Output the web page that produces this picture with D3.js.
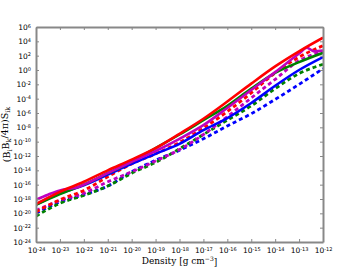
<!DOCTYPE html>
<html>
<head>
<meta charset="utf-8">
<script src="https://cdn.jsdelivr.net/npm/d3@7"></script>
<style>
  body { margin: 0; background: #fff; }
  svg { display: block; }
</style>
</head>
<body>
<script>
// decades of density on the x axis (log10 g cm^-3)
const densityExp = [-24, -23, -22, -21, -20, -19, -18, -17, -16, -15, -14, -13, -12];
// magenta solid line has a few extra points for its bumps
const magentaExp = [-24, -23.5, -23, -22.7, -22.3, -22, -21, -20, -19, -18, -17, -16, -15, -14, -13, -12.67, -12.38, -12];
const xTickExp = [-24, -23, -22, -21, -20, -19, -18, -17, -16, -15, -14, -13, -12];
const yTickExp = [6, 4, 2, 0, -2, -4, -6, -8, -10, -12, -14, -16, -18, -20, -22, -24];

// log10 of (BiBk/4pi)Sik
const redSolid     = [-18.7, -17.0, -15.6, -14.0, -12.5, -10.9, -8.9, -6.8, -4.4, -1.9, 0.5, 2.6, 4.5];
const magentaSolid = [-18.1, -17.4, -16.8, -16.6, -16.4, -16.0, -14.4, -12.8, -11.3, -9.6, -7.7, -5.3, -2.8, -0.3, 2.3, 3.1, 2.6, 2.7];
const greenSolid   = [-18.8, -17.3, -16.0, -14.4, -12.8, -10.9, -9.0, -7.0, -5.0, -2.6, -0.4, 1.1, 2.4];
const blueSolid    = [-18.8, -17.2, -16.1, -14.6, -13.1, -11.7, -10.3, -8.4, -6.7, -4.6, -2.2, 0.0, 1.8];
const redDashed    = [-19.8, -18.1, -16.8, -14.9, -13.1, -11.7, -10.1, -8.1, -5.8, -3.2, -0.4, 1.8, 3.4];
const magentaDashed= [-19.6, -18.2, -17.2, -15.6, -14.2, -12.7, -11.1, -9.0, -6.5, -3.9, -1.3, 1.3, 2.6];
const greenDashed  = [-20.4, -18.6, -17.5, -16.2, -14.4, -12.9, -11.0, -9.0, -7.0, -5.0, -2.6, -0.5, 0.8];
const blueDashed   = [-20.0, -18.4, -17.4, -16.2, -14.2, -12.6, -11.2, -9.6, -7.8, -6.1, -4.1, -2.0, 0.2];

const series = [
  {xs: densityExp, vals: blueDashed, color: "#0000ff", dash: true},
  {xs: densityExp, vals: greenDashed, color: "#008000", dash: true},
  {xs: densityExp, vals: magentaDashed, color: "#bf00bf", dash: true},
  {xs: densityExp, vals: redDashed, color: "#ff0000", dash: true},
  {xs: densityExp, vals: blueSolid, color: "#0000ff", dash: false},
  {xs: densityExp, vals: greenSolid, color: "#008000", dash: false},
  {xs: magentaExp, vals: magentaSolid, color: "#bf00bf", dash: false},
  {xs: densityExp, vals: redSolid, color: "#ff0000", dash: false}
];

const margin = {top: 27, right: 37, bottom: 28, left: 36};
const width = 360 - margin.left - margin.right;
const height = 270 - margin.top - margin.bottom;

const svg = d3.select("body").append("svg")
    .attr("width", 360)
    .attr("height", 270);

const g = svg.append("g")
    .attr("transform", "translate(" + margin.left + "," + margin.top + ")");

const x = d3.scaleLog().domain([1e-24, 1e-12]).range([0, width]);
const y = d3.scaleLog().domain([1e-24, 1e6]).range([height, 0]);

// clip to plot area
svg.append("defs").append("clipPath").attr("id", "clip")
  .append("rect").attr("width", width).attr("height", height);

const plot = g.append("g").attr("clip-path", "url(#clip)");
series.forEach(s => {
  const line = d3.line()
      .x((d, i) => x(Math.pow(10, s.xs[i])))
      .y(d => y(Math.pow(10, d)))
      .curve(d3.curveMonotoneX);
  plot.append("path")
      .datum(s.vals)
      .attr("d", line)
      .attr("fill", "none")
      .attr("stroke", s.color)
      .attr("stroke-width", s.dash ? 2.8 : 2.6)
      .attr("stroke-dasharray", s.dash ? "4,3" : null);
});

// superscript tick labels
function powLabel(sel, exps) {
  sel.selectAll(".tick text").each(function(d, i) {
    const t = d3.select(this);
    t.text(null);
    t.append("tspan").text("10");
    t.append("tspan").attr("dy", "-0.45em").attr("font-size", "5px").text(exps[i]);
  });
}

const axisColor = "#888";
const fontTick = "DejaVu Sans, sans-serif";

const xAxis = d3.axisBottom(x)
    .tickValues(xTickExp.map(e => Math.pow(10, e)))
    .tickSizeInner(-3).tickSizeOuter(0).tickPadding(6);
const xAxisTop = d3.axisTop(x)
    .tickValues(xTickExp.map(e => Math.pow(10, e)))
    .tickSizeInner(-3).tickSizeOuter(0).tickFormat("");
const yAxis = d3.axisLeft(y)
    .tickValues(yTickExp.map(e => Math.pow(10, e)))
    .tickSizeInner(-3).tickSizeOuter(0).tickPadding(5);
const yAxisRight = d3.axisRight(y)
    .tickValues(yTickExp.map(e => Math.pow(10, e)))
    .tickSizeInner(-3).tickSizeOuter(0).tickFormat("");

const gx = g.append("g").attr("transform", "translate(0," + height + ")").call(xAxis);
powLabel(gx, xTickExp);
g.append("g").call(xAxisTop);
const gy = g.append("g").call(yAxis);
powLabel(gy, yTickExp);
g.append("g").attr("transform", "translate(" + width + ",0)").call(yAxisRight);

g.selectAll(".domain").attr("stroke", axisColor).attr("stroke-width", 2);
g.selectAll(".tick line").attr("stroke", axisColor).attr("stroke-width", 1);
g.selectAll(".tick text")
    .attr("fill", "#000")
    .attr("font-family", fontTick)
    .attr("font-size", "7.5px");

// axis labels
const xl = svg.append("text")
    .attr("x", margin.left + width / 2)
    .attr("y", 264)
    .attr("text-anchor", "middle")
    .attr("font-family", "DejaVu Serif, serif")
    .attr("font-size", "9px");
xl.append("tspan").text("Density [g cm");
xl.append("tspan").attr("dy", "-0.45em").attr("font-size", "6px").text("−3");
xl.append("tspan").attr("dy", "0.45em").text("]");

const yl = svg.append("text")
    .attr("transform", "translate(10," + (margin.top + height / 2) + ") rotate(-90)")
    .attr("text-anchor", "middle")
    .attr("font-family", "DejaVu Serif, serif")
    .attr("font-size", "9.5px");
yl.append("tspan").text("(B");
yl.append("tspan").attr("dy", "0.3em").attr("font-size", "6.5px").text("i");
yl.append("tspan").attr("dy", "-0.3em").text("B");
yl.append("tspan").attr("dy", "0.3em").attr("font-size", "6.5px").text("k");
yl.append("tspan").attr("dy", "-0.3em").text("/4π)S");
yl.append("tspan").attr("dy", "0.3em").attr("font-size", "6.5px").text("ik");
</script>
</body>
</html>
